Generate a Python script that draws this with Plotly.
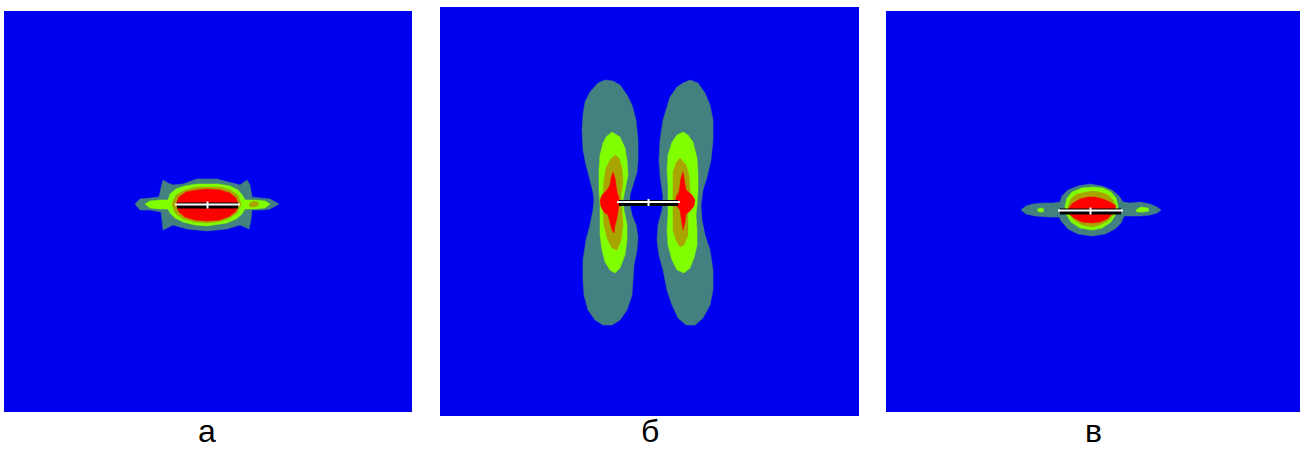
import plotly.graph_objects as go

# ---------------- data: region outlines (picture coordinates, px) ----------------
panel_labels = ["а", "б", "в"]

# panel а
teal_a_x = [135,140,150,159,161,163,168,173,183,197,217,230,240,247,250,252,262,270,279,270,262,252,251,249,240,227,207,187,173,163,162,161,150,140]
teal_a_y = [204,199,198,197,188,180,183,185,184,179,179,182,185,180,185,197,198,199,204,209,210,210,220,229,225,229,231,229,225,230,220,212,210,210]
lime_a_x = [145,150,160,168,170,176,185,197,207,218,230,238,243,245,255,265,270,265,255,245,242,236,227,215,207,195,183,175,170,168,160,150]
lime_a_y = [204,201,200,200,194,189,186,184,184,184,186,190,196,200,200,201,204,208,209,209,214,219,223,225,226,225,222,218,213,209,209,208]
olive_a_x = [172,176,185,197,207,220,230,238,241,237,228,217,207,195,183,175]
olive_a_y = [204,195,190,187,187,187,190,195,204,213,219,222,223,222,219,213]
olive_a2_x = [249,253,258,259,255,250]
olive_a2_y = [204,201,202,205,207,207]
red_a_x = [176,179,186,197,207,220,230,236,238,236,230,220,207,195,185,179]
red_a_y = [204,197,192,190,189,190,193,198,204,211,216,220,221,220,217,212]
crack_a_x = [175, 240]
crack_a_y = [204.5, 204.5]

# panel б
teal_bl_x = [605,598,590,585,583,582,583,586,590,593,594,593,590,586,583,583,584,588,595,603,612,620,627,632,633,634,637,638,636,632,630,630,633,637,638,638,636,632,627,620,613]
teal_bl_y = [80,83,92,102,115,130,150,165,180,192,200,210,225,240,260,280,295,310,320,325,325,320,310,295,280,265,250,237,225,215,205,195,185,172,160,140,120,105,95,85,81]
teal_br_x = [690,683,677,670,667,663,660,659,660,662,663,662,658,657,659,663,667,672,678,686,695,703,710,713,713,710,705,702,701,703,707,711,713,713,710,705,698]
teal_br_y = [80,83,87,97,107,120,140,160,175,187,197,210,225,240,255,270,290,305,318,325,325,318,305,290,270,250,235,220,205,190,177,160,140,120,105,93,83]
lime_bl_x = [612,606,603,600,599,599,600,600,600,602,605,610,615,620,625,627,627,624,623,625,628,627,625,620]
lime_bl_y = [132,137,143,155,170,190,205,220,235,250,262,270,273,268,255,240,225,210,200,190,175,160,148,137]
lime_br_x = [683,677,672,668,667,668,668,668,667,668,672,677,684,690,694,697,697,696,697,698,698,697,693,688]
lime_br_y = [132,135,142,155,170,185,200,215,230,245,260,270,273,268,258,245,230,215,205,190,175,158,142,135]
olive_bl_x = [615,610,606,604,603,603,604,607,612,617,621,623,622,621,623,622,619]
olive_bl_y = [155,160,168,180,195,210,225,238,248,250,240,225,210,195,182,168,158]
olive_br_x = [680,676,673,673,673,673,673,676,680,684,688,688,688,690,689,686]
olive_br_y = [158,163,172,185,200,215,230,240,247,245,235,220,205,190,175,165]
red_bl_x = [613,611,610,607,602,600,601,604,608,610,612,614,615,617,618,619,619,617,616,615]
red_bl_y = [172,178,185,190,195,200,207,212,215,222,230,233,225,218,212,205,198,192,185,178]
red_br_x = [683,681,680,679,676,676,680,681,682,683,685,686,690,694,695,692,686,685]
red_br_y = [172,178,185,192,197,205,210,218,225,230,222,214,211,206,200,195,190,182]
crack_b_x = [617, 680]
crack_b_y = [202, 202]

# panel в
teal_c_x = [1021,1026,1033,1043,1053,1060,1062,1068,1078,1090,1102,1112,1119,1123,1130,1140,1150,1157,1161,1157,1150,1140,1124,1121,1115,1105,1092,1078,1068,1062,1059,1048,1035,1026]
teal_c_y = [210,206,204,203,203,202,196,190,186,184,186,190,196,202,203,202,204,207,210,213,215,216,216,223,229,234,236,234,229,222,217,217,216,214]
lime_c_x = [1065,1067,1072,1082,1092,1103,1111,1116,1118,1116,1111,1102,1092,1080,1071,1066]
lime_c_y = [206,198,192,188,187,188,192,198,206,214,222,228,230,228,222,214]
lime_c2_x = [1037,1040,1044,1043,1039]
lime_c2_y = [210,208,209,212,212]
lime_c3_x = [1136,1141,1148,1149,1143,1137]
lime_c3_y = [210,207,208,211,212,212]
olive_c_x = [1068,1071,1077,1086,1092,1100,1108,1113,1116,1114,1108,1100,1092,1082,1074,1069]
olive_c_y = [206,199,194,192,191,192,195,200,206,214,221,225,227,225,220,213]
red_c_x = [1068,1073,1080,1088,1095,1103,1110,1116,1113,1107,1100,1092,1082,1074,1069]
red_c_y = [209,203,199,197,197,199,202,206,213,219,222,223,222,218,214]
crack_c_x = [1058, 1123]
crack_c_y = [210.5, 210.5]

# ---------------- styles ----------------
BLUE = "#0000f0"
TEAL = "#438080"
LIME = "#80ff00"
OLIVE = "#a8a400"
RED = "#ff0000"

W, H = 1301, 450
panels = [  # (x0, x1, y0, y1) in picture px
    (4, 412, 11, 412),
    (440, 859, 7, 416),
    (886, 1300, 11, 412),
]

fig = go.Figure()

def poly(xs, ys, color, k):
    sfx = "" if k == 1 else str(k)
    fig.add_trace(go.Scatter(x=xs + xs[:1], y=ys + ys[:1], mode="lines", fill="toself",
                             fillcolor=color, line=dict(width=0.5, color=color),
                             hoverinfo="skip", showlegend=False,
                             xaxis="x" + sfx, yaxis="y" + sfx))

def crack(xs, ys, k):
    sfx = "" if k == 1 else str(k)
    ax = dict(xaxis="x" + sfx, yaxis="y" + sfx, mode="lines", hoverinfo="skip", showlegend=False)
    fig.add_trace(go.Scatter(x=[xs[0] + 2, xs[1] - 2], y=[ys[0] + 1, ys[1] + 1],
                             line=dict(color="black", width=6), **ax))
    fig.add_trace(go.Scatter(x=xs, y=ys, line=dict(color="white", width=2), **ax))
    cx = (xs[0] + xs[1]) / 2
    fig.add_trace(go.Scatter(x=[cx, cx], y=[ys[0] - 3, ys[0] + 4],
                             line=dict(color="white", width=2), **ax))

# panel а
poly(teal_a_x, teal_a_y, TEAL, 1)
poly(lime_a_x, lime_a_y, LIME, 1)
poly(olive_a_x, olive_a_y, OLIVE, 1)
poly(olive_a2_x, olive_a2_y, OLIVE, 1)
poly(red_a_x, red_a_y, RED, 1)
crack(crack_a_x, crack_a_y, 1)

# panel б
poly(teal_bl_x, teal_bl_y, TEAL, 2)
poly(teal_br_x, teal_br_y, TEAL, 2)
poly(lime_bl_x, lime_bl_y, LIME, 2)
poly(lime_br_x, lime_br_y, LIME, 2)
poly(olive_bl_x, olive_bl_y, OLIVE, 2)
poly(olive_br_x, olive_br_y, OLIVE, 2)
poly(red_bl_x, red_bl_y, RED, 2)
poly(red_br_x, red_br_y, RED, 2)
crack(crack_b_x, crack_b_y, 2)

# panel в
poly(teal_c_x, teal_c_y, TEAL, 3)
poly(lime_c_x, lime_c_y, LIME, 3)
poly(lime_c2_x, lime_c2_y, LIME, 3)
poly(lime_c3_x, lime_c3_y, LIME, 3)
poly(olive_c_x, olive_c_y, OLIVE, 3)
poly(red_c_x, red_c_y, RED, 3)
crack(crack_c_x, crack_c_y, 3)

layout = dict(width=W, height=H, autosize=False,
              margin=dict(l=0, r=0, t=0, b=0),
              paper_bgcolor="white", plot_bgcolor=BLUE, showlegend=False)
annotations = []
for i, (x0, x1, y0, y1) in enumerate(panels):
    sfx = "" if i == 0 else str(i + 1)
    layout["xaxis" + sfx] = dict(domain=[x0 / W, x1 / W], range=[x0, x1],
                                 showgrid=False, zeroline=False, showticklabels=False,
                                 ticks="", fixedrange=True, anchor="y" + sfx)
    layout["yaxis" + sfx] = dict(domain=[1 - y1 / H, 1 - y0 / H], range=[y1, y0],
                                 showgrid=False, zeroline=False, showticklabels=False,
                                 ticks="", fixedrange=True, anchor="x" + sfx)
    annotations.append(dict(text=panel_labels[i], xref="paper", yref="paper",
                            x=((x0 + x1) / 2 + [-1, 0, 0][i]) / W, y=0,
                            xanchor="center", yanchor="bottom", showarrow=False,
                            borderpad=0,
                            font=dict(family="Liberation Sans, Arial, sans-serif",
                                      size=32, color="black")))
layout["annotations"] = annotations
fig.update_layout(**layout)

fig.write_html("out.html", config={"displayModeBar": False},
               post_script="document.body.style.margin='0px';document.body.style.overflow='hidden';")
